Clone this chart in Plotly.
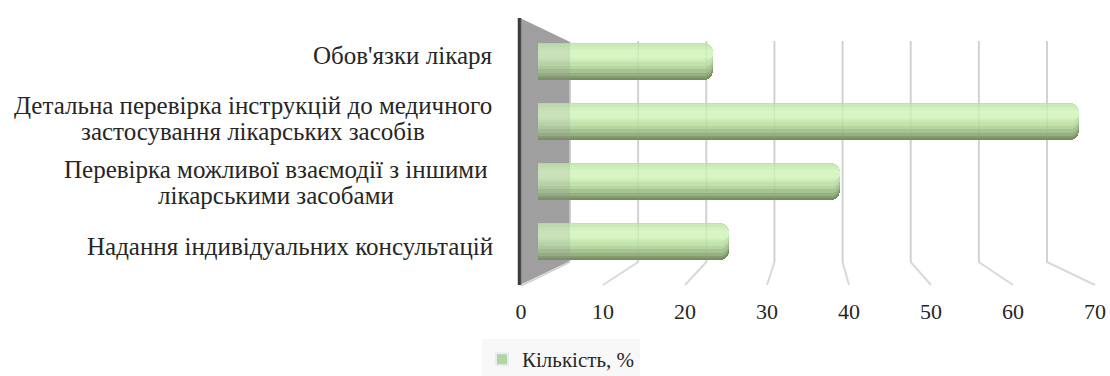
import plotly.graph_objects as go

# ---------------- data ----------------
categories = [
    "Обов'язки лікаря",
    "Детальна перевірка інструкцій до медичного<br>застосування лікарських засобів",
    "Перевірка можливої взаємодії з іншими<br>лікарськими засобами",
    "Надання індивідуальних консультацій",
]
values = [22, 68, 38, 24]
series_name = "Кількість, %"
tick_values = [0, 10, 20, 30, 40, 50, 60, 70]

# ---------------- geometry / style ----------------
W, H = 1110, 376
PL, PR, PT, PB = 500, 1110, 10, 296          # plot area in px
FONT = "Liberation Serif, Times New Roman, Tinos, serif"
TXT = "#262626"
CAT_SIZE, TICK_SIZE, LEG_SIZE = 25, 22, 21

def fx(px):
    return (px - PL) / (PR - PL)

def fy(py):
    return (PB - py) / (PB - PT)

# front (tick) scale: 0 -> 521 px, 70 -> 1095 px
F0, F70 = 521, 1095
kf = (F70 - F0) / 70
# back wall scale: 0 -> 570 px, 70 -> 1047 px
B0, B70 = 570, 1047
kb = (B70 - B0) / 70
# bar scale: 0 -> 538 px, 68 -> 1079 px
K0, kbar = 538, (1079 - 538) / 68

x_range = [(PL - F0) / kf, (PR - F0) / kf]
x2_range = [(PL - K0) / kbar, (PR - K0) / kbar]

# bars: 60 px spacing, first centre at 61.5 px
bar_sp, bar_c0 = 60, 61.5
y_range = [(PB - bar_c0) / bar_sp, (PT - bar_c0) / bar_sp]
# labels: 63.7 px spacing, first centre at 55 px
lab_sp, lab_c0 = 63.7, 55
y2_range = [(PB - lab_c0) / lab_sp, (PT - lab_c0) / lab_sp]

BW = 37 / bar_sp   # bar thickness in category units

LABEL_RIGHT = 494          # right edge of single-line labels (px)
MULTI_CENTER = {1: 252.5, 2: 276}   # centre of two-line label blocks (px)
LINE_GAP = 26              # px between lines of a wrapped label

layers = [  # (from top frac, to frac, colour)
    (0.00, 1.00, "#748e5f"),
    (0.00, 0.95, "#849d70"),
    (0.00, 0.88, "#95b081"),
    (0.00, 0.80, "#a6c392"),
    (0.00, 0.71, "#b6d5a1"),
    (0.00, 0.61, "#c2e2ac"),
    (0.03, 0.52, "#caebb5"),
    (0.10, 0.45, "#d1f1bc"),
    (0.18, 0.40, "#d7f6c3"),
]

fig = go.Figure()
for a, b, col in layers:
    thick = (b - a) * 37
    fig.add_trace(go.Bar(
        x=values, y=categories, orientation="h",
        width=(b - a) * BW, offset=-BW / 2 + a * BW,
        marker=dict(color=col, line=dict(width=0),
                    cornerradius=min(9, thick / 2)),
        xaxis="x2", yaxis="y",
        name=series_name, showlegend=False, hoverinfo="skip",
    ))

# legend entry
fig.add_trace(go.Bar(
    x=[None], y=[None], orientation="h", name=series_name,
    marker=dict(color="#b2d69c"), xaxis="x2", yaxis="y", showlegend=True,
))

shapes = []
# gray side wall
wall_path = (f"M {fx(520)},{fy(18)} L {fx(B0)},{fy(42)} L {fx(B0)},{fy(261)} "
             f"L {fx(520)},{fy(285)} Z")
shapes.append(dict(type="path", path=wall_path, xref="paper", yref="paper",
                   fillcolor="#a3a3a3", line=dict(width=0), layer="below"))
shapes.append(dict(type="line", xref="paper", yref="paper",
                   x0=fx(B0), x1=fx(B0), y0=fy(42), y1=fy(261),
                   line=dict(color="#cfcfcf", width=2), layer="below"))
shapes.append(dict(type="line", xref="paper", yref="paper",
                   x0=fx(519.5), x1=fx(519.5), y0=fy(18), y1=fy(285),
                   line=dict(color="#3c3c3c", width=3.5), layer="below"))
shapes.append(dict(type="line", xref="paper", yref="paper",
                   x0=fx(521), x1=fx(B0), y0=fy(286), y1=fy(262),
                   line=dict(color="#d0d0d0", width=1.5), layer="below"))

# gridlines (back wall vertical + slanted floor part)
for v in tick_values[1:]:
    bx = B0 + v * kb
    fxp = F0 + v * kf
    p = (f"M {fx(bx)},{fy(41)} L {fx(bx)},{fy(262)} L {fx(fxp)},{fy(285)}")
    shapes.append(dict(type="path", path=p, xref="paper", yref="paper",
                       line=dict(color="#d9d9d9", width=2), layer="below"))
    shapes.append(dict(type="line", xref="paper", yref="paper",
                       x0=fx(bx), x1=fx(bx), y0=fy(41), y1=fy(262),
                       line=dict(color="#9aa890", width=1.5), opacity=0.15,
                       layer="above"))
shapes.append(dict(type="path", path=wall_path, xref="paper", yref="paper",
                   fillcolor="#8f8f8f", line=dict(width=0), opacity=0.2,
                   layer="above"))

annotations = []
for i, c in enumerate(categories):
    lines = c.split("<br>")
    n = len(lines)
    for j, line in enumerate(lines):
        shift = ((n - 1) / 2 - j) * LINE_GAP
        if n == 1:
            xa, anchor = fx(LABEL_RIGHT), "right"
        else:
            xa, anchor = fx(MULTI_CENTER[i]), "center"
        annotations.append(dict(
            text=line, xref="paper", yref="y2", x=xa, y=i, yshift=shift,
            xanchor=anchor, yanchor="middle", showarrow=False, borderpad=0,
            font=dict(family=FONT, size=CAT_SIZE, color=TXT),
        ))

fig.add_trace(go.Scatter(x=[None], y=[None], yaxis="y2", xaxis="x",
                         showlegend=False, hoverinfo="skip"))

fig.update_layout(
    width=W, height=H,
    margin=dict(l=PL, r=W - PR, t=PT, b=H - PB, pad=0, autoexpand=False),
    paper_bgcolor="white", plot_bgcolor="rgba(0,0,0,0)",
    barmode="overlay", bargap=0,
    font=dict(family=FONT, size=LEG_SIZE, color=TXT),
    xaxis=dict(range=x_range, tickvals=tick_values, ticks="",
               showgrid=False, zeroline=False, showline=False,
               ticklabelstandoff=0,
               tickfont=dict(family=FONT, size=TICK_SIZE, color=TXT)),
    xaxis2=dict(range=x2_range, overlaying="x", visible=False,
                showgrid=False, zeroline=False),
    yaxis=dict(type="category", categoryarray=categories,
               categoryorder="array", range=y_range, visible=False,
               showgrid=False, zeroline=False),
    yaxis2=dict(range=y2_range, overlaying="y", visible=False,
                showgrid=False, zeroline=False),
    shapes=shapes, annotations=annotations,
    showlegend=True,
    legend=dict(orientation="h", x=fx(482), y=fy(339), xanchor="left",
                yanchor="top", bgcolor="#f7f8f7",
                font=dict(family=FONT, size=LEG_SIZE, color=TXT),
                itemsizing="constant"),
)

fig.write_html("out.html")
